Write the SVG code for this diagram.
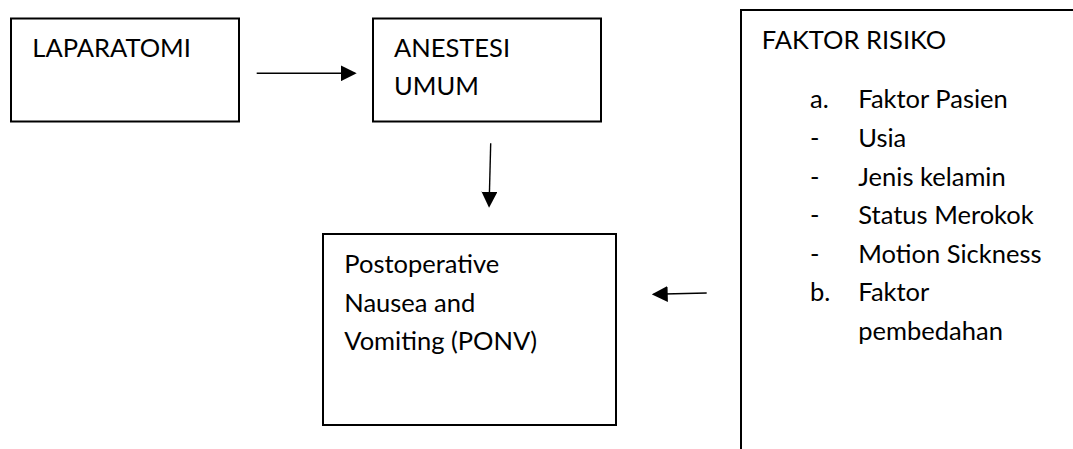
<svg xmlns="http://www.w3.org/2000/svg" width="1073" height="449" viewBox="0 0 1073 449">
<style>
  .box { fill: #ffffff; stroke: #000000; stroke-width: 2; }
  .t { font-family: Lato, "Liberation Sans", sans-serif; font-size: 25.5px; fill: #000000; }
  .conn { stroke: #000000; stroke-width: 1.4; fill: none; marker-end: url(#head); }
</style>
<defs>
  <marker id="head" markerUnits="userSpaceOnUse" markerWidth="16" markerHeight="16" refX="14" refY="8" orient="auto">
    <path d="M0,0 L16,8 L0,16 z" fill="#000000"/>
  </marker>
</defs>
<rect width="1073" height="449" fill="#ffffff"/>
<g id="laparatomi">
  <rect class="box" x="11" y="18.5" width="228" height="103"/>
  <text class="t" x="32.3" y="57.3">LAPARATOMI</text>
</g>
<g id="anestesi">
  <rect class="box" x="373" y="18.5" width="228" height="103"/>
  <text class="t" x="394" y="57.3">ANESTESI</text>
  <text class="t" x="394" y="95">UMUM</text>
</g>
<g id="ponv">
  <rect class="box" x="323" y="234" width="293" height="191"/>
  <text class="t" x="344.3" y="273.3">Postoperative</text>
  <text class="t" x="344.3" y="311.7">Nausea and</text>
  <text class="t" x="344.3" y="350">Vomiting (PONV)</text>
</g>
<g id="faktor-risiko">
  <rect class="box" x="741" y="10" width="345" height="460"/>
  <text class="t" x="761.7" y="49.3">FAKTOR RISIKO</text>
  <text class="t" x="810" y="108.3">a.</text>
  <text class="t" x="858.3" y="108.3">Faktor Pasien</text>
  <text class="t" x="810" y="146.9">-</text>
  <text class="t" x="858.3" y="146.9">Usia</text>
  <text class="t" x="810" y="185.5">-</text>
  <text class="t" x="858.3" y="185.5">Jenis kelamin</text>
  <text class="t" x="810" y="224.1">-</text>
  <text class="t" x="858.3" y="224.1">Status Merokok</text>
  <text class="t" x="810" y="262.7">-</text>
  <text class="t" x="858.3" y="262.7">Motion Sickness</text>
  <text class="t" x="810" y="301.3">b.</text>
  <text class="t" x="858.3" y="301.3">Faktor</text>
  <text class="t" x="858.3" y="339.9">pembedahan</text>
</g>
<g id="connectors">
  <line class="conn" x1="256.7" y1="73.3" x2="354.7" y2="73.3"/>
  <line class="conn" x1="490.7" y1="143.3" x2="489.1" y2="205.7"/>
  <line class="conn" x1="706.7" y1="293" x2="653.7" y2="294.3"/>
</g>
</svg>
